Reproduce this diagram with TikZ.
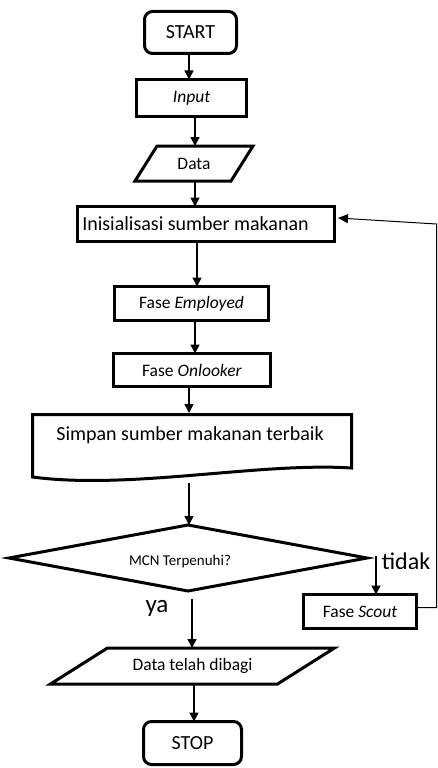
\documentclass[tikz,border=0pt]{standalone}
\usepackage{fontspec}
\setmainfont{Carlito}
\usetikzlibrary{shapes.geometric,arrows.meta,calc}
\begin{document}
\begin{tikzpicture}[x=1pt,y=-1pt,
  box/.style={draw, line width=3pt, inner sep=0pt, outer sep=0pt},
  term/.style={box, rounded corners=8pt},
  plain/.style={inner sep=0pt, outer sep=0pt},
  fbig/.style={font=\fontsize{20}{24}\selectfont},
  fsmall/.style={font=\fontsize{17.5}{21}\selectfont},
  conn/.style={line width=1.5pt, -{Triangle[length=9pt,width=9pt]}},
  back/.style={line width=1pt, -{Triangle[length=10pt,width=9pt]}}
]
\useasboundingbox (0,0) rectangle (438,768);
\fill[white] (0,0) rectangle (438,768);

% START
\node[term, fbig, minimum width=92pt, minimum height=42pt] (start) at (190.5,32.5) {START};
% Input
\node[box, fsmall, minimum width=110pt, minimum height=37pt] (input) at (191.5,98) {\textit{Input}};
% Data (parallelogram)
\node[plain, fsmall, minimum width=96pt, minimum height=35pt] (data) at (194,163.5) {Data};
\draw[line width=3pt, line join=miter]
  ([xshift=-11pt]data.south west) -- ([xshift=11pt]data.north west) --
  ([xshift=11pt]data.north east) -- ([xshift=-11pt]data.south east) -- cycle;
% Inisialisasi
\node[box, fbig, minimum width=257pt, minimum height=35pt] (init) at (205.5,224) {\hspace*{-20pt}Inisialisasi sumber makanan};
% Employed
\node[box, fsmall, minimum width=154pt, minimum height=34pt] (emp) at (191.5,303.5) {Fase \textit{Employed}};
% Onlooker
\node[box, fsmall, minimum width=157pt, minimum height=33pt] (onl) at (192,370) {Fase \textit{Onlooker}};
% Simpan (document)
\node[plain, fbig] (simpan) at (190,435) {Simpan sumber makanan terbaik};
\draw[line width=3pt, line join=miter]
  (32.5,414.5) -- (351.5,414.5) -- (351.5,468) .. controls (260,462) and (130,490) .. (32.5,477) -- cycle;
\coordinate (simpant) at (189,413);
\coordinate (simpanb) at (189,483);
% Decision
\node[draw, diamond, line width=3pt, inner sep=0pt, outer sep=0pt,
      minimum width=358pt, minimum height=66pt] (dec) at (188,558) {};
\node[plain, font=\fontsize{15}{18}\selectfont] (dect) at (180,561) {MCN Terpenuhi?};
% Scout
\node[box, fsmall, minimum width=113pt, minimum height=34pt] (scout) at (360,611.5) {Fase \textit{Scout}};
% Data telah dibagi
\node[plain, fsmall, minimum width=227pt, minimum height=36pt] (data2) at (192.5,666) {Data telah dibagi};
\draw[line width=3pt, line join=miter]
  ([xshift=-28.5pt]data2.south west) -- ([xshift=28.5pt]data2.north west) --
  ([xshift=28.5pt]data2.north east) -- ([xshift=-28.5pt]data2.south east) -- cycle;
% STOP
\node[term, fbig, minimum width=98pt, minimum height=43pt] (stop) at (192.5,743) {STOP};

% labels
\node[plain, font=\fontsize{25}{30}\selectfont] (ya) at (157,608) {ya};
\node[plain, font=\fontsize{24}{29}\selectfont] (tidak) at (406,561) {tidak};

% connectors
\draw[conn] ([xshift=-1.5pt]start.south) -- ([xshift=-1.5pt]start.south |- input.north);
\draw[conn] ([xshift=3.5pt]input.south) -- ([xshift=3.5pt]input.south |- data.north);
\draw[conn] ([xshift=1pt]data.south) -- ([xshift=1pt]data.south |- init.north);
\draw[conn] ([xshift=-8.5pt]init.south) -- ([xshift=-8.5pt]init.south |- emp.north);
\draw[conn] ([xshift=3.5pt]emp.south) -- ([xshift=3.5pt]emp.south |- onl.north);
\draw[conn] (onl.south -| simpant) -- (simpant);
\draw[conn] (simpanb) -- (simpanb |- dec.north);
\draw[conn] ([xshift=4pt,yshift=-8pt]dec.south) -- ([xshift=4pt]dec.south |- data2.north);
\draw[conn] ([xshift=9pt,yshift=2pt]dec.east) -- ([xshift=9pt]dec.east |- scout.north);
\draw[conn] ([xshift=1.5pt]data2.south) -- ([xshift=1.5pt]data2.south |- stop.north);
\coordinate (fb) at (436.5,400);
\draw[back] ([yshift=4pt]scout.east) -- ([yshift=4pt]scout.east -| fb) -- (fb |- init.east) -- ([xshift=4pt,yshift=6pt]init.east);
\end{tikzpicture}
\end{document}
